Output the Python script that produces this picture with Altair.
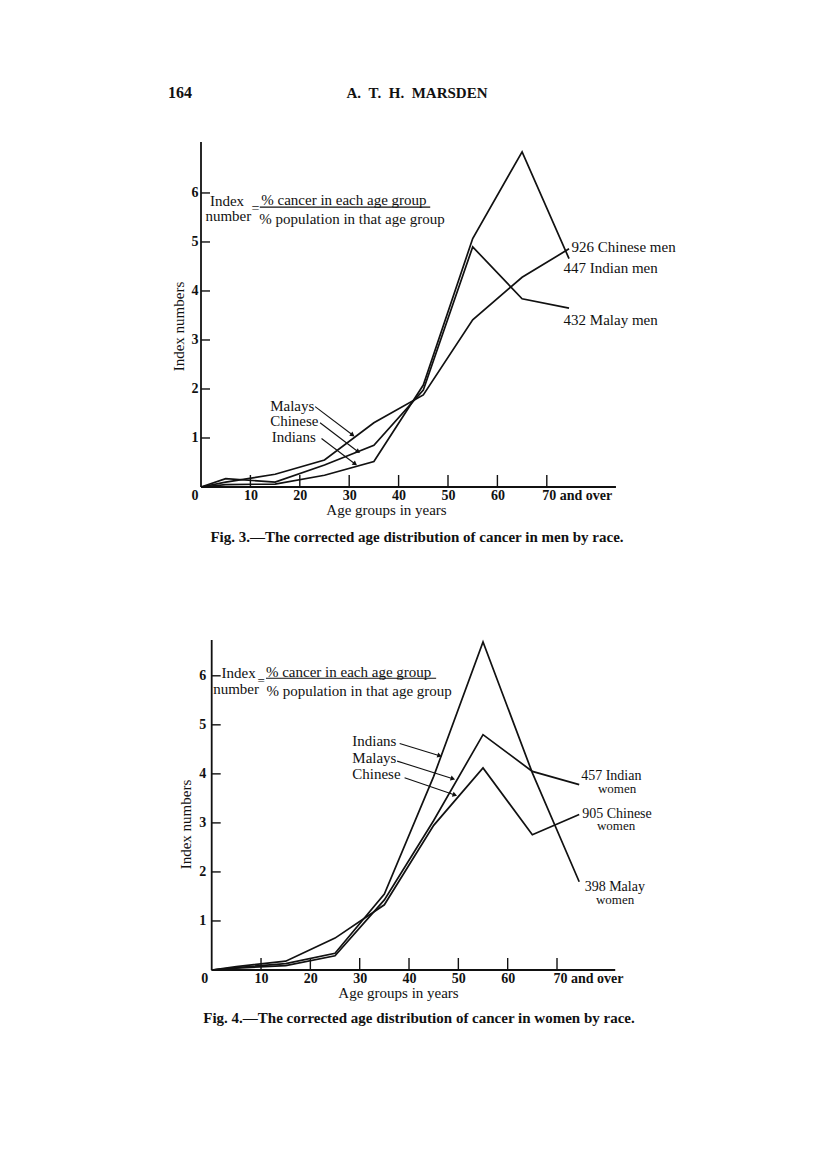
import math
import altair as alt
import pandas as pd

FONT = "Liberation Serif"
INK = "#111111"

# ---------------- data ----------------
AGES = [0, 5, 15, 25, 35, 45, 55, 65, 74.5]

MEN_CHINESE = [0, 0.10, 0.26, 0.55, 1.31, 1.88, 3.41, 4.28, 4.86]
MEN_INDIAN = [0, 0.05, 0.06, 0.24, 0.52, 2.08, 5.07, 6.84, 4.66]
MEN_MALAY = [0, 0.17, 0.10, 0.45, 0.85, 1.98, 4.90, 3.84, 3.65]

WOMEN_MALAY = [0, 0.05, 0.13, 0.34, 1.55, 3.95, 6.69, 4.02, 1.80]
WOMEN_INDIAN = [0, 0.04, 0.09, 0.29, 1.43, 3.05, 4.80, 4.05, 3.78]
WOMEN_CHINESE = [0, 0.07, 0.18, 0.65, 1.33, 2.95, 4.12, 2.76, 3.17]

X_TICKS = [0, 10, 20, 30, 40, 50, 60, 70]
X_TICK_LABELS = ["0", "10", "20", "30", "40", "50", "60", "70 and over"]
Y_TICKS = [1, 2, 3, 4, 5, 6]

# chart annotations (text, x, y, font size)
MEN_TEXT = [
    ("Index", 1.8, 5.84, 15),
    ("number", 0.9, 5.52, 15),
    ("=", 10.2, 5.68, 14),
    ("% cancer in each age group", 12.2, 5.86, 15),
    ("% population in that age group", 11.8, 5.46, 15),
    ("926 Chinese men", 75.0, 4.90, 15),
    ("447 Indian men", 73.4, 4.46, 15),
    ("432 Malay men", 73.4, 3.41, 15),
    ("Malays", 14.0, 1.66, 15),
    ("Chinese", 14.0, 1.35, 15),
    ("Indians", 14.3, 1.03, 15),
]
MEN_BAR = [(11.9, 46.4, 5.71)]
MEN_ARROWS = [
    (23.1, 1.64, 30.7, 1.06),
    (24.1, 1.31, 31.8, 0.72),
    (24.4, 0.99, 31.2, 0.47),
]

WOMEN_TEXT = [
    ("Index", 2.0, 6.05, 15),
    ("number", 0.3, 5.74, 15),
    ("=", 9.3, 5.90, 13),
    ("% cancer in each age group", 11.0, 6.08, 15),
    ("% population in that age group", 11.1, 5.70, 15),
    ("Indians", 28.5, 4.67, 15),
    ("Malays", 28.5, 4.33, 15),
    ("Chinese", 28.5, 3.99, 15),
    ("457 Indian", 74.9, 3.95, 14),
    ("women", 78.3, 3.69, 13),
    ("905 Chinese", 75.1, 3.19, 14),
    ("women", 78.1, 2.93, 13),
    ("398 Malay", 75.6, 1.69, 14),
    ("women", 77.9, 1.43, 13),
]
WOMEN_BAR = [(11.0, 45.5, 5.95)]
WOMEN_ARROWS = [
    (38.1, 4.62, 46.2, 4.37),
    (37.6, 4.26, 48.9, 3.90),
    (39.1, 3.92, 49.3, 3.57),
]

label_expr = " : ".join(
    f"datum.value == {v} ? '{t}'" for v, t in zip(X_TICKS, X_TICK_LABELS)
) + " : datum.label"


def panel(series, texts, bars, arrows, xdom, ydom, xmax, ymax, width, height,
          caption, y_offset, y_label_pad, y_title_pad, x_title_x,
          zero_off, seventy_off, cap_dx, cap_offset, header=None):
    px_x = width / (xdom[1] - xdom[0])
    px_y = height / (ydom[1] - ydom[0])

    xaxis = alt.Axis(
        values=X_TICKS, labelExpr=label_expr, domain=False, ticks=False, grid=False,
        labelFont=FONT, labelFontSize=14, labelFontWeight="bold", labelColor=INK,
        labelPadding=1, labelFlush=False, labelOverlap=False, labelBound=False,
        labelAlign={"condition": [{"test": "datum.value == 0", "value": "right"},
                                  {"test": "datum.value >= 70", "value": "left"}],
                    "value": "center"},
        labelOffset={"condition": [{"test": "datum.value == 0", "value": zero_off},
                                   {"test": "datum.value >= 70", "value": seventy_off}],
                     "value": 0},
        title="Age groups in years", titleFont=FONT, titleFontSize=15,
        titleFontWeight="normal", titleColor=INK, titlePadding=0, titleX=x_title_x,
    )
    yaxis = alt.Axis(
        values=Y_TICKS, domain=False, ticks=False, grid=False,
        labelFont=FONT, labelFontSize=14, labelFontWeight="bold", labelColor=INK,
        labelPadding=y_label_pad, offset=y_offset,
        title="Index numbers", titleFont=FONT, titleFontSize=15,
        titleFontWeight="normal", titleColor=INK, titlePadding=y_title_pad, titleY=184,
    )
    xs = alt.Scale(domain=list(xdom), nice=False, zero=False)
    ys = alt.Scale(domain=list(ydom), nice=False, zero=False)

    def X(f):
        return alt.X(f, type="quantitative", scale=xs, axis=xaxis)

    def Y(f):
        return alt.Y(f, type="quantitative", scale=ys, axis=yaxis)

    rows = []
    for name, vals in series.items():
        for a, v in zip(AGES, vals):
            rows.append({"series": name, "x": a, "y": v})
    lines = alt.Chart(pd.DataFrame(rows)).mark_line(
        color=INK, strokeWidth=1.7, strokeJoin="miter"
    ).encode(x=X("x"), y=Y("y"), detail="series:N")

    axes_df = pd.DataFrame([
        {"x": 0, "x2": xmax, "y": 0, "y2": 0},
        {"x": 0, "x2": 0, "y": 0, "y2": ymax},
    ])
    axis_lines = alt.Chart(axes_df).mark_rule(color=INK, strokeWidth=1.8).encode(
        x=X("x"), x2="x2:Q", y=Y("y"), y2="y2:Q")

    tick_up = 12 / px_y
    tick_right = 9 / px_x
    tick_df = pd.DataFrame(
        [{"x": t, "x2": t, "y": 0, "y2": tick_up} for t in X_TICKS if t > 0]
        + [{"x": 0, "x2": tick_right, "y": t, "y2": t} for t in Y_TICKS]
    )
    ticks = alt.Chart(tick_df).mark_rule(color=INK, strokeWidth=1.4).encode(
        x=X("x"), x2="x2:Q", y=Y("y"), y2="y2:Q")

    tdf = pd.DataFrame([{"text": t, "x": x, "y": y, "fs": s} for t, x, y, s in texts])
    labels = alt.Chart(tdf).mark_text(
        align="left", baseline="middle", font=FONT, color=INK
    ).encode(x=X("x"), y=Y("y"), text="text:N", size=alt.Size("fs:Q", scale=None))

    bdf = pd.DataFrame([{"x": a, "x2": b, "y": y} for a, b, y in bars])
    bar = alt.Chart(bdf).mark_rule(color=INK, strokeWidth=1.2).encode(
        x=X("x"), x2="x2:Q", y=Y("y"))

    adf = pd.DataFrame([{"x": a, "y": b, "x2": c, "y2": d,
                         "ang": math.degrees(math.atan2(-(d - b) * px_y, (c - a) * px_x)) % 360}
                        for a, b, c, d in arrows])
    arrow_lines = alt.Chart(adf).mark_rule(color=INK, strokeWidth=1.1).encode(
        x=X("x"), x2="x2:Q", y=Y("y"), y2="y2:Q")
    heads = alt.Chart(adf).mark_point(
        shape="triangle-right", filled=True, color=INK, size=28, opacity=1
    ).encode(x=X("x2"), y=Y("y2"), angle=alt.Angle("ang:Q", scale=None))

    layers = [axis_lines, ticks, lines, bar, arrow_lines, heads, labels]
    if header is not None:
        layers.append(header)

    return alt.layer(*layers).properties(
        width=width, height=height,
        title=alt.TitleParams(
            caption, orient="bottom", anchor="middle", font=FONT, fontSize=15,
            fontWeight="bold", color=INK, dx=cap_dx, offset=cap_offset,
        ),
    )


hdr_df = pd.DataFrame([{"t": "164"}])
header = alt.layer(
    alt.Chart(hdr_df).mark_text(align="left", baseline="middle", font=FONT,
                                fontSize=16, fontWeight="bold", color=INK).encode(
        x=alt.value(-33), y=alt.value(-49), text="t:N"),
    alt.Chart(pd.DataFrame([{"t": "A.\u00a0\u00a0T.\u00a0\u00a0H.\u00a0\u00a0MARSDEN"}])).mark_text(
        align="center", baseline="middle", font=FONT, fontSize=15,
        fontWeight="bold", color=INK).encode(
        x=alt.value(216), y=alt.value(-49), text="t:N"),
)

W = 416
men = panel(
    {"Chinese": MEN_CHINESE, "Indian": MEN_INDIAN, "Malay": MEN_MALAY},
    MEN_TEXT, MEN_BAR, MEN_ARROWS,
    xdom=(0, W / 4.94), ydom=(0, 7.04), xmax=84, ymax=7.04,
    width=W, height=345,
    caption="Fig. 3.\u2014The corrected age distribution of cancer in men by race.",
    y_offset=0, y_label_pad=3, y_title_pad=5, x_title_x=185,
    zero_off=-3, seventy_off=-5, cap_dx=8, cap_offset=13, header=header,
)

x0 = -10.7 / 4.933
women = panel(
    {"Malay": WOMEN_MALAY, "Indian": WOMEN_INDIAN, "Chinese": WOMEN_CHINESE},
    WOMEN_TEXT, WOMEN_BAR, WOMEN_ARROWS,
    xdom=(x0, x0 + W / 4.933), ydom=(0, 6.73), xmax=81.8, ymax=6.73,
    width=W, height=330,
    caption="Fig. 4.\u2014The corrected age distribution of cancer in women by race.",
    y_offset=-10.7, y_label_pad=6, y_title_pad=5, x_title_x=197,
    zero_off=-4, seventy_off=-4, cap_dx=10, cap_offset=11,
)

chart = alt.vconcat(men, women, spacing=93).properties(
    padding={"left": 160, "top": 77, "right": 5, "bottom": 5},
    background="white",
).configure_view(stroke=None)

chart.save("out.html", embed_options={"renderer": "svg", "actions": False})
